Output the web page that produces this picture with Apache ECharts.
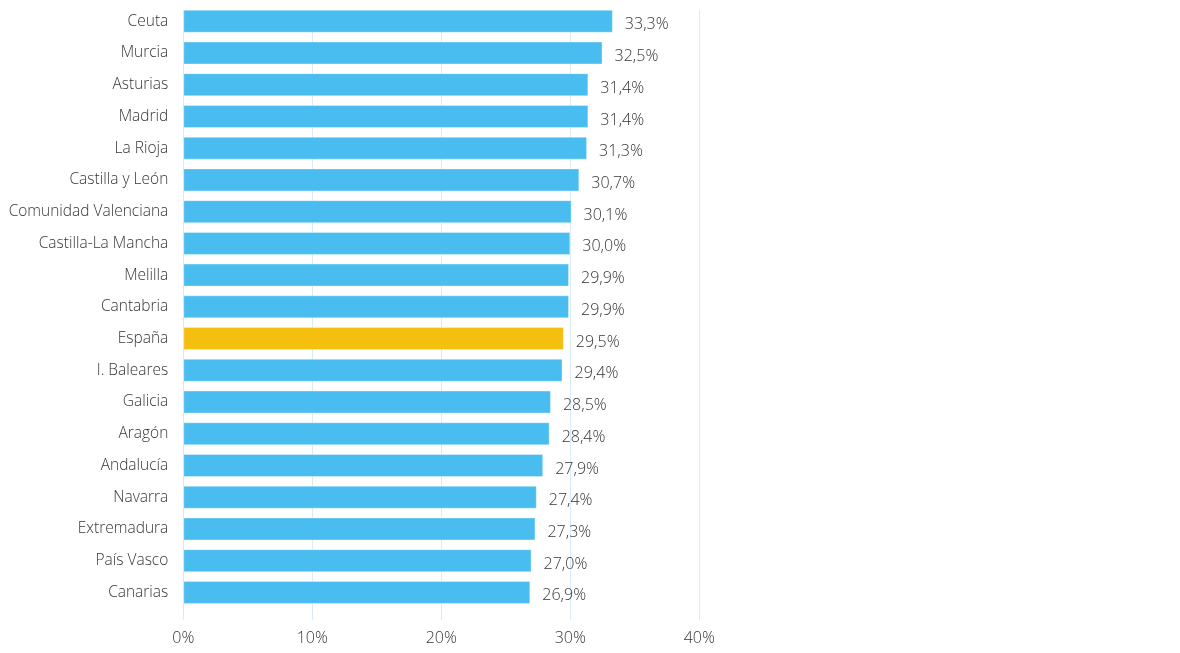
<!DOCTYPE html>
<html><head><meta charset="utf-8">
<script src="https://cdn.jsdelivr.net/npm/echarts@6/dist/echarts.min.js"></script>
<style>html,body{margin:0;padding:0;background:#fff}#c{width:1180px;height:653px}</style>
</head><body><div id="c"></div>
<script>
const categories = ["Ceuta","Murcia","Asturias","Madrid","La Rioja","Castilla y León","Comunidad Valenciana","Castilla-La Mancha","Melilla","Cantabria","España","I. Baleares","Galicia","Aragón","Andalucía","Navarra","Extremadura","País Vasco","Canarias"];
const values = [33.3,32.5,31.4,31.4,31.3,30.7,30.1,30.0,29.9,29.9,29.5,29.4,28.5,28.4,27.9,27.4,27.3,27.0,26.9];
const highlight = "España";
const xTicks = [0,10,20,30,40];

const FONT = "'Open Sans', 'Noto Sans', sans-serif";
const TXT = '#363636';
const chart = echarts.init(document.getElementById('c'), null, {renderer:'canvas'});
const L = 183.3, R = 1180 - 699.3;
chart.setOption({
  animation:false,
  grid:[
    {left:L, right:R, top:10, bottom:33},
    {left:L, right:R, top:5.4, height:602.9}
  ],
  xAxis:[
    {gridIndex:0, type:'value', min:xTicks[0], max:xTicks[xTicks.length-1], interval:10,
     axisLine:{show:false}, axisTick:{show:false},
     splitLine:{show:true, lineStyle:{color:'#d8ebf7', width:1}},
     axisLabel:{formatter:'{value}%', color:TXT, fontFamily:FONT, fontWeight:300, fontSize:16, margin:10}},
    {gridIndex:1, type:'value', min:0, max:40, show:false}
  ],
  yAxis:[
    {gridIndex:0, type:'value', show:false},
    {gridIndex:1, type:'category', data:categories, inverse:true,
     axisLine:{show:false}, axisTick:{show:false}, splitLine:{show:false},
     axisLabel:{color:TXT, fontFamily:FONT, fontWeight:300, fontSize:15.5, margin:15}}
  ],
  series:[{
    type:'bar', xAxisIndex:1, yAxisIndex:1,
    barWidth:23,
    data: values.map((v,i)=>({value:v, itemStyle:{color: categories[i]===highlight ? '#f5bf0f' : '#4abdf0'}})),
    itemStyle:{borderColor:'rgba(255,255,255,0.35)', borderWidth:1},
    label:{show:true, position:'right', distance:12, offset:[0,3.5], color:TXT, fontFamily:FONT, fontWeight:300, fontSize:16,
      formatter:p=>p.value.toFixed(1).replace('.',',')+'%'}
  }]
});
</script></body></html>
